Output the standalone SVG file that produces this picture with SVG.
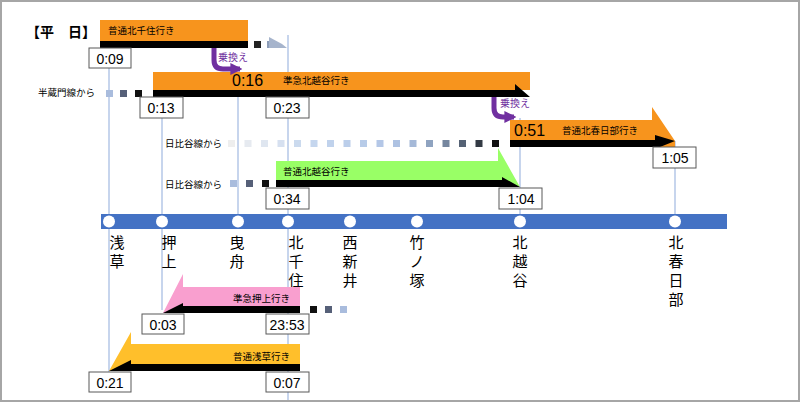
<svg xmlns="http://www.w3.org/2000/svg" width="800" height="402" viewBox="0 0 800 402">
<style>
text{font-family:"Noto Sans CJK JP","Noto Sans",sans-serif;fill:#000}
.vl{stroke:#B4C7E7;stroke-width:1.5}
.box{fill:#fff;stroke:#595959;stroke-width:1}
.t{font-size:14px;text-anchor:middle;font-family:"Liberation Sans",sans-serif}
.big{font-size:16px;font-family:"Liberation Sans",sans-serif}
.lbl{font-size:9.5px}
.st{font-size:15px;text-anchor:middle}
.xf{fill:none;stroke:#7030A0;stroke-width:5}
.xt{font-size:10px;fill:#7030A0}
</style>
<defs>
<marker id="pa" viewBox="0 0 10 10" refX="8" refY="5" markerWidth="2.4" markerHeight="2.4" orient="auto"><path d="M0,0L10,5L0,10z" fill="#7030A0"/></marker>
</defs>
<rect x="1" y="1" width="798" height="400" fill="#fff" stroke="#a6a6a6" stroke-width="2"/>
<text x="26" y="37" font-size="14" font-weight="bold">【平　日】</text>
<g id="verticals">
<line class="vl" x1="109" y1="66" x2="109" y2="372"/>
<line class="vl" x1="162" y1="116" x2="162" y2="310"/>
<line class="vl" x1="238" y1="72" x2="238" y2="215"/>
<line class="vl" x1="288" y1="35" x2="288" y2="400"/>
<line class="vl" x1="520" y1="118" x2="520" y2="215"/>
<line class="vl" x1="675" y1="141" x2="675" y2="215"/>
</g>
<g id="line">
<rect x="101" y="214" width="626" height="15" fill="#4472C4"/>
<g fill="#fff"><circle cx="109" cy="221.5" r="6"/><circle cx="162" cy="221.5" r="6"/><circle cx="238" cy="221.5" r="6"/><circle cx="288" cy="221.5" r="6"/><circle cx="350" cy="221.5" r="6"/><circle cx="417" cy="221.5" r="6"/><circle cx="520" cy="221.5" r="6"/><circle cx="675" cy="221.5" r="6"/></g>
</g>
<g id="stations">
<text class="st" x="117"><tspan x="117" y="248">浅</tspan><tspan x="117" y="267">草</tspan></text>
<text class="st" x="169"><tspan x="169" y="248">押</tspan><tspan x="169" y="267">上</tspan></text>
<text class="st" x="237"><tspan x="237" y="248">曳</tspan><tspan x="237" y="267">舟</tspan></text>
<text class="st" x="296"><tspan x="296" y="248">北</tspan><tspan x="296" y="267">千</tspan><tspan x="296" y="286">住</tspan></text>
<text class="st" x="350"><tspan x="350" y="248">西</tspan><tspan x="350" y="267">新</tspan><tspan x="350" y="286">井</tspan></text>
<text class="st" x="417"><tspan x="417" y="248">竹</tspan><tspan x="417" y="267">ノ</tspan><tspan x="417" y="286">塚</tspan></text>
<text class="st" x="520"><tspan x="520" y="248">北</tspan><tspan x="520" y="267">越</tspan><tspan x="520" y="286">谷</tspan></text>
<text class="st" x="676"><tspan x="676" y="248">北</tspan><tspan x="676" y="267">春</tspan><tspan x="676" y="286">日</tspan><tspan x="676" y="305">部</tspan></text>
</g>
<g id="train1">
<rect x="100" y="20" width="148" height="21" fill="#F7941D"/>
<rect x="100" y="41" width="148" height="7" fill="#000"/>
<rect x="254" y="41" width="7" height="7" fill="#222"/>
<rect x="267" y="41" width="6" height="7" fill="#8D9DB8"/>
<path d="M269,37 L282,44 L287,48 L269,48z" fill="#A6B4CC"/>
<text class="lbl" x="108" y="34">普通北千住行き</text>
<rect class="box" x="89" y="48" width="42" height="20"/><text class="t" x="110" y="64">0:09</text>
</g>
<g id="train2">
<rect x="153" y="72" width="377" height="18" fill="#F7941D"/>
<path d="M153,90 H515 V84 L530,97 H153z" fill="#000"/>
<text class="big" x="232" y="86">0:16</text>
<text class="lbl" x="283" y="84">準急北越谷行き</text>
<text class="lbl" x="38" y="96" fill="#333">半蔵門線から</text>
<rect x="106" y="90" width="7" height="7" fill="#A9BCDD"/>
<rect x="120" y="90" width="7" height="7" fill="#566078"/>
<rect x="135" y="90" width="7" height="7" fill="#111"/>
<rect class="box" x="140" y="97" width="43" height="21"/><text class="t" x="161" y="113">0:13</text>
<rect class="box" x="266" y="97" width="43" height="21"/><text class="t" x="287" y="113">0:23</text>
</g>
<g id="train3">
<path d="M510,120 H652 V107 L675,141 V147 H510z" fill="#F7941D"/>
<path d="M510,140 H655 V135 L675,141 L660,147 H510z" fill="#000"/>
<text class="big" x="514" y="136">0:51</text>
<text class="lbl" x="562" y="134">普通北春日部行き</text>
<rect class="box" x="653" y="147" width="43" height="21"/><text class="t" x="675" y="163">1:05</text>
</g>
<g id="hibiya1">
<text class="lbl" x="165" y="147" fill="#333">日比谷線から</text>
<g>
<rect x="228" y="140" width="7" height="7" fill="#EEEEEE"/>
<rect x="244.5" y="140" width="7" height="7" fill="#E6EAF0"/>
<rect x="261" y="140" width="7" height="7" fill="#DFE6F0"/>
<rect x="277.5" y="140" width="7" height="7" fill="#D6E0F0"/>
<rect x="294" y="140" width="7" height="7" fill="#CBDAEE"/>
<rect x="310.5" y="140" width="7" height="7" fill="#C5D6EE"/>
<rect x="327" y="140" width="7" height="7" fill="#C0D2EC"/>
<rect x="343.5" y="140" width="7" height="7" fill="#BBCEEA"/>
<rect x="360" y="140" width="7" height="7" fill="#B7CBE8"/>
<rect x="376.5" y="140" width="7" height="7" fill="#B4C7E7"/>
<rect x="393" y="140" width="7" height="7" fill="#AEC2E2"/>
<rect x="409.5" y="140" width="7" height="7" fill="#A5B9D8"/>
<rect x="426" y="140" width="7" height="7" fill="#8FA3C0"/>
<rect x="442.5" y="140" width="7" height="7" fill="#75869E"/>
<rect x="459" y="140" width="7" height="7" fill="#556275"/>
<rect x="475.5" y="140" width="7" height="7" fill="#333A44"/>
<rect x="492" y="140" width="7" height="7" fill="#111"/>
</g>
</g>
<g id="train4">
<path d="M276,161 H498 V148 L520,187 H276z" fill="#99FF66"/>
<path d="M276,180 H502 V177 L520,187 H276z" fill="#000"/>
<text class="lbl" x="283" y="175">普通北越谷行き</text>
<text class="lbl" x="165" y="188" fill="#333">日比谷線から</text>
<rect x="230" y="180" width="7" height="7" fill="#A9BCDD"/>
<rect x="246" y="180" width="7" height="7" fill="#566078"/>
<rect x="262" y="180" width="7" height="7" fill="#111"/>
<rect class="box" x="266" y="188" width="43" height="21"/><text class="t" x="287" y="204">0:34</text>
<rect class="box" x="499" y="188" width="43" height="21"/><text class="t" x="521" y="204">1:04</text>
</g>
<g id="train5">
<path d="M300,287 H183 V274 L163,313 H300z" fill="#F99FCF"/>
<path d="M300,306 H183 V303 L163,313 H300z" fill="#000"/>
<text class="lbl" x="233" y="302">準急押上行き</text>
<rect x="310" y="306" width="7" height="7" fill="#111"/>
<rect x="325" y="306" width="7" height="7" fill="#566078"/>
<rect x="340" y="306" width="7" height="7" fill="#A9BCDD"/>
<rect class="box" x="142" y="314" width="42" height="20"/><text class="t" x="163" y="330">0:03</text>
<rect class="box" x="266" y="314" width="43" height="20"/><text class="t" x="287" y="330">23:53</text>
</g>
<g id="train6">
<path d="M300,344 H131 V332 L109,371 H300z" fill="#FFBF2B"/>
<path d="M300,364 H131 V360 L109,371 H300z" fill="#000"/>
<text class="lbl" x="233" y="360">普通浅草行き</text>
<rect class="box" x="89" y="372" width="42" height="20"/><text class="t" x="110" y="388">0:21</text>
<rect class="box" x="266" y="372" width="43" height="20"/><text class="t" x="287" y="388">0:07</text>
</g>
<g id="connectors">
<path class="xf" d="M214,48 V60 Q214,69 223,69 H240" marker-end="url(#pa)"/>
<text class="xt" x="218" y="61">乗換え</text>
<path class="xf" d="M494,97 V108 Q494,117 503,117 H514" marker-end="url(#pa)"/>
<text class="xt" x="500" y="107">乗換え</text>
</g>
</svg>
